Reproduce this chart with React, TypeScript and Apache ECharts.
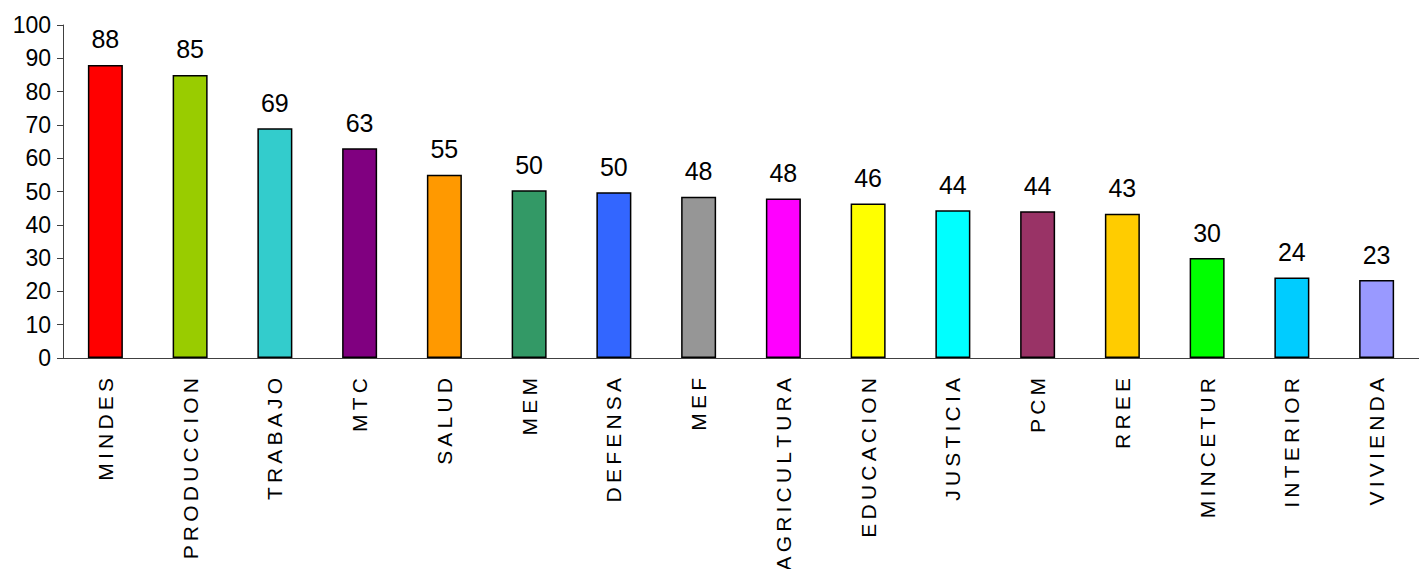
import React, { useEffect, useRef } from "react";
import * as echarts from "echarts";

const categories = [
  "MINDES", "PRODUCCION", "TRABAJO", "MTC", "SALUD", "MEM", "DEFENSA", "MEF",
  "AGRICULTURA", "EDUCACION", "JUSTICIA", "PCM", "RREE", "MINCETUR", "INTERIOR", "VIVIENDA",
];
const values = [88, 85, 69, 63, 55, 50.4, 49.8, 48.4, 47.9, 46.4, 44.4, 44.1, 43.3, 30, 24.2, 23.4];
const barColors = [
  "#FF0000", "#99CC00", "#33CCCC", "#800080", "#FF9900", "#339966", "#3366FF", "#969696",
  "#FF00FF", "#FFFF00", "#00FFFF", "#993366", "#FFCC00", "#00FF00", "#00CCFF", "#9999FF",
];
const yTicks = [0, 10, 20, 30, 40, 50, 60, 70, 80, 90, 100];

export default function App() {
  const ref = useRef<HTMLDivElement>(null);
  useEffect(() => {
    if (!ref.current) return;
    const chart = echarts.init(ref.current, null, { renderer: "svg" });
    const font = "'Liberation Sans', Arial, sans-serif";
    chart.setOption({
      animation: false,
      grid: {
        left: 63, right: 0, top: 25, bottom: 211,
        containLabel: false, outerBoundsMode: "none",
      },
      xAxis: {
        type: "category",
        data: categories,
        boundaryGap: true,
        axisLine: { lineStyle: { color: "#404040", width: 1 } },
        axisTick: { length: 7, lineStyle: { color: "#404040" }, alignWithLabel: false },
        axisLabel: {
          rotate: 90,
          interval: 0,
          margin: 20,
          color: "#000",
          fontSize: 21,
          fontFamily: font,
          formatter: (v: string) => v.split("").join("\u2009"),
        },
      },
      yAxis: {
        type: "value",
        min: yTicks[0],
        max: yTicks[yTicks.length - 1],
        interval: 10,
        splitLine: { show: false },
        axisLine: { show: true, lineStyle: { color: "#404040", width: 1 } },
        axisTick: { show: true, length: 6, lineStyle: { color: "#404040" } },
        axisLabel: { color: "#000", fontSize: 23, fontFamily: font, margin: 12 },
      },
      series: [
        {
          type: "bar",
          data: values.map((v, i) => ({ value: v, itemStyle: { color: barColors[i] } })),
          barWidth: 35,
          itemStyle: { borderColor: "#000", borderWidth: 1.5 },
          label: {
            show: true,
            position: "top",
            distance: 13,
            color: "#000",
            fontSize: 25,
            fontFamily: font,
            formatter: (p: any) => String(Math.round(p.value)),
          },
        },
      ],
    });
    return () => chart.dispose();
  }, []);
  return (
    <div
      ref={ref}
      style={{ position: "fixed", left: 0, top: 0, width: 1419, height: 569, background: "#fff" }}
    />
  );
}
